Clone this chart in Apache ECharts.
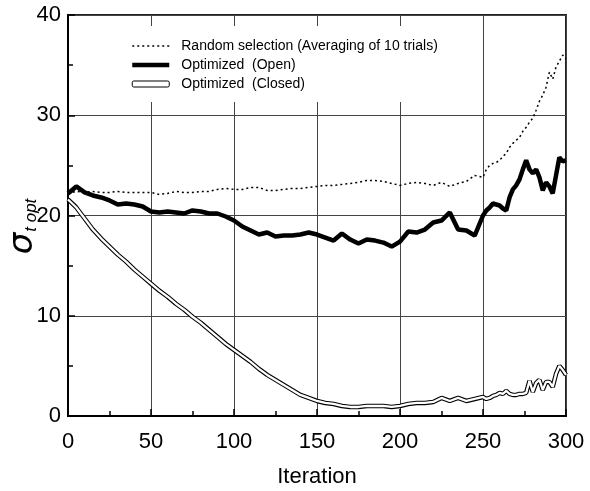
<!DOCTYPE html>
<html>
<head>
<meta charset="utf-8">
<script src="https://cdn.jsdelivr.net/npm/echarts@6/dist/echarts.min.js"></script>
<style>
  html, body { margin: 0; padding: 0; background: #fff; }
  #chart { width: 590px; height: 491px; }
</style>
</head>
<body>
<div id="chart"></div>
<script>
// iteration steps: every 5 up to 245, then every 2 to 300
var iterations = [
  0, 5, 10, 15, 20, 25, 30, 35, 40, 45,
  50, 55, 60, 65, 70, 75, 80, 85, 90, 95,
  100, 105, 110, 115, 120, 125, 130, 135, 140, 145,
  150, 155, 160, 165, 170, 175, 180, 185, 190, 195,
  200, 205, 210, 215, 220, 225, 230, 235, 240, 245,
  250, 252, 254, 256, 258, 260, 262, 264, 266, 268,
  270, 272, 274, 276, 278, 280, 282, 284, 286, 288,
  290, 292, 294, 296, 298, 300
];

var randomSel = [
  22.2, 22.4, 22.3, 22.4, 22.3, 22.3, 22.4, 22.3, 22.3, 22.3,
  22.3, 22.1, 22.2, 22.4, 22.3, 22.3, 22.4, 22.4, 22.6, 22.7,
  22.6, 22.6, 22.8, 22.8, 22.5, 22.5, 22.6, 22.7, 22.7, 22.8,
  22.9, 23.0, 23.0, 23.1, 23.2, 23.3, 23.5, 23.5, 23.4, 23.2,
  23.0, 23.2, 23.3, 23.2, 23.0, 23.3, 22.9, 23.2, 23.4, 24.0,
  23.8, 24.6, 25.0, 25.2, 25.3, 25.5, 25.9, 26.2, 26.8, 27.2,
  27.5, 27.8, 28.4, 28.8, 29.3, 29.7, 30.5, 31.4, 32.0, 32.8,
  34.3, 33.6, 34.8, 35.4, 36.0, 35.6
];

var optOpen = [
  22.2, 22.9, 22.3, 22.0, 21.8, 21.5, 21.1, 21.2, 21.1, 20.9,
  20.4, 20.3, 20.4, 20.3, 20.2, 20.5, 20.4, 20.2, 20.2, 19.9,
  19.5, 18.9, 18.5, 18.1, 18.3, 17.9, 18.0, 18.0, 18.1, 18.3,
  18.1, 17.8, 17.5, 18.2, 17.6, 17.2, 17.6, 17.5, 17.3, 16.9,
  17.4, 18.4, 18.3, 18.6, 19.3, 19.5, 20.3, 18.6, 18.5, 18.0,
  20.0, 20.5, 20.8, 21.2, 21.1, 21.0, 20.7, 20.5, 21.8, 22.6,
  23.0, 23.6, 24.6, 25.5, 24.6, 24.2, 24.6, 23.8, 22.5, 23.3,
  22.9, 22.2, 24.0, 25.8, 25.4, 25.5
];

var optClosed = [
  21.6, 20.8, 19.7, 18.6, 17.7, 16.9, 16.1, 15.4, 14.6, 13.9,
  13.2, 12.5, 11.9, 11.2, 10.6, 9.9, 9.3, 8.6, 7.9, 7.2,
  6.6, 6.0, 5.4, 4.7, 4.1, 3.6, 3.1, 2.6, 2.1, 1.8,
  1.5, 1.3, 1.2, 1.0, 0.9, 0.9, 1.0, 1.0, 1.0, 0.9,
  1.0, 1.2, 1.3, 1.3, 1.4, 1.8, 1.5, 1.8, 1.5, 1.7,
  1.9, 1.7, 1.8, 2.0, 2.1, 2.3, 2.2, 2.5, 2.2, 2.1,
  2.1, 2.2, 2.2, 2.3, 3.5, 2.4, 3.3, 3.6, 2.6, 3.4,
  3.4, 2.9, 4.2, 5.0, 4.6, 4.1
];

var legendNames = [
  'Random selection (Averaging of 10 trials)',
  'Optimized  (Open)',
  'Optimized  (Closed)'
];

function pairs(ys) {
  return iterations.map(function (x, i) { return [x, ys[i]]; });
}

var font = "'Liberation Sans', Arial, sans-serif";
var noDot = { color: 'rgba(0,0,0,0)', borderWidth: 0 };

var chart = echarts.init(document.getElementById('chart'));

var option = {
  backgroundColor: '#fff',
  animation: false,
  textStyle: { fontFamily: font, color: '#000' },
  grid: {
    left: 68, right: 24, top: 15, bottom: 75,
    outerBoundsMode: 'none',
    containLabel: false,
    show: true, borderColor: '#222', borderWidth: 2
  },
  legend: {
    orient: 'vertical',
    left: 100, top: 26,
    padding: [12, 30, 10, 30],
    backgroundColor: '#fff',
    itemWidth: 37, itemHeight: 6,
    itemGap: 3,
    textStyle: { fontFamily: font, fontSize: 14, color: '#000', lineHeight: 16, padding: [0, 0, 0, 7] },
    data: [
      { name: legendNames[0], itemStyle: noDot, lineStyle: { width: 1.5 } },
      { name: legendNames[1], itemStyle: noDot, lineStyle: { width: 4.5 } },
      { name: legendNames[2], icon: 'roundRect',
        itemStyle: { color: '#fff', borderColor: '#000', borderWidth: 1 } }
    ]
  },
  xAxis: {
    type: 'value',
    min: 0, max: 300, interval: 50,
    name: 'Iteration',
    nameLocation: 'middle',
    nameGap: 50,
    nameTextStyle: { fontSize: 22, fontFamily: font, color: '#000' },
    axisLine: { lineStyle: { color: '#000', width: 2 } },
    axisTick: { inside: true, length: 7, lineStyle: { color: '#000', width: 1.5 } },
    minorTick: { show: true, splitNumber: 2, length: 5, lineStyle: { color: '#000', width: 1.5 } },
    axisLabel: { fontSize: 22, color: '#000', margin: 15, fontFamily: font },
    splitLine: { show: true, lineStyle: { color: '#444', width: 1 } }
  },
  yAxis: {
    type: 'value',
    min: 0, max: 40, interval: 10,
    name: '{s|σ}{sub|t opt}',
    nameLocation: 'middle',
    nameRotate: 90,
    nameGap: 28,
    nameMoveOverlap: false,
    nameTextStyle: {
      rich: {
        s: { fontSize: 34, fontStyle: 'italic', fontFamily: 'DejaVu Sans', color: '#000' },
        sub: { fontSize: 17, fontStyle: 'italic', fontFamily: 'Liberation Sans', color: '#000',
               verticalAlign: 'bottom', padding: [0, 22, 0, 1] }
      }
    },
    axisLine: { lineStyle: { color: '#000', width: 2 } },
    axisTick: { inside: true, length: 7, lineStyle: { color: '#000', width: 1.5 } },
    minorTick: { show: true, splitNumber: 2, length: 5, lineStyle: { color: '#000', width: 1.5 } },
    axisLabel: { fontSize: 22, color: '#000', margin: 7, fontFamily: font },
    splitLine: { show: true, lineStyle: { color: '#444', width: 1 } }
  },
  series: [
    {
      name: legendNames[0],
      type: 'line',
      data: pairs(randomSel),
      showSymbol: false, symbol: 'none',
      lineStyle: { color: '#000', width: 1.5, type: [2, 3] },
      itemStyle: { color: '#000' }
    },
    {
      name: legendNames[2],
      type: 'line',
      data: pairs(optClosed),
      showSymbol: false, symbol: 'none',
      lineStyle: { color: '#000', width: 4.5 },
      itemStyle: { color: '#000' }
    },
    {
      name: 'closed-inner',
      type: 'line',
      data: pairs(optClosed),
      showSymbol: false, symbol: 'none',
      lineStyle: { color: '#fff', width: 2.3 },
      itemStyle: { color: '#fff' }
    },
    {
      name: legendNames[1],
      type: 'line',
      data: pairs(optOpen),
      showSymbol: false, symbol: 'none',
      lineStyle: { color: '#000', width: 4.5 },
      itemStyle: { color: '#000' }
    }
  ]
};

chart.setOption(option);
</script>
</body>
</html>
